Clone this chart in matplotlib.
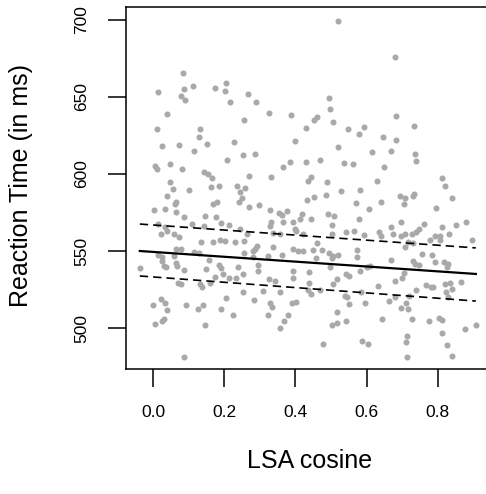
import matplotlib
matplotlib.use("Agg")
import matplotlib.pyplot as plt

# LSA cosine vs reaction time
lsa_cosine = [
    0.085, 0.013, 0.088, 0.113, 0.079, 0.090, 0.175, 0.205, 0.201, 0.215, 0.039, 0.010, 0.132, 0.256,
    0.519, 0.268, 0.288, 0.326, 0.387, 0.495, 0.496, 0.462, 0.451, 0.506, 0.430, 0.548,
    0.680, 0.683, 0.593, 0.732,
    0.026, 0.073, 0.129, 0.152, 0.115, 0.228, 0.253, 0.208, 0.006, 0.012, 0.047, 0.081, 0.144, 0.155,
    0.165, 0.049, 0.056, 0.101, 0.162, 0.186, 0.237, 0.258, 0.244, 0.039, 0.065, 0.062, 0.003, 0.033,
    0.065, 0.088, 0.168, 0.181, 0.145, 0.177, 0.251, 0.241, 0.014, 0.034, 0.109, 0.142, 0.192, 0.214,
    0.022, 0.039, 0.058, 0.073, 0.244, 0.169, 0.189, 0.202, 0.230, 0.256, 0.136,
    0.578, 0.398, 0.520, 0.287, 0.366, 0.386, 0.430, 0.470, 0.537, 0.561, 0.269, 0.331, 0.435, 0.443,
    0.489, 0.527, 0.486, 0.452, 0.432, 0.571, 0.297, 0.270, 0.329, 0.353, 0.363, 0.377, 0.420, 0.492,
    0.509, 0.444, 0.364, 0.393, 0.412, 0.331, 0.328, 0.502, 0.541, 0.565, 0.398, 0.402, 0.263, 0.337,
    0.357, 0.503, 0.422, 0.460,
    0.647, 0.684, 0.616, 0.669, 0.737, 0.738, 0.649, 0.812, 0.819, 0.630, 0.581, 0.694, 0.707, 0.732,
    0.731, 0.704, 0.640, 0.839, 0.794, 0.608, 0.579, 0.697, 0.760, 0.811, 0.850, 0.879, 0.669, 0.635,
    0.641, 0.673, 0.697, 0.708, 0.728, 0.740, 0.746, 0.594, 0.792, 0.807, 0.831, 0.779, 0.806, 0.895,
    0.066, 0.079, 0.015, 0.024, 0.059, 0.024, 0.116, 0.129, 0.256, -0.037, 0.032, 0.037, 0.065, 0.068,
    0.088, 0.148, 0.157, 0.186, 0.190, 0.238, 0.254, 0.197, 0.174, 0.214, 0.232, 0.071, 0.080, 0.133,
    0.138, 0.161, 0.254, 0.022, 0.000, 0.033, 0.039, 0.093, 0.126, 0.140, 0.191, 0.206, 0.226, 0.030,
    0.024, 0.006, 0.146, 0.088,
    0.336, 0.293, 0.280, 0.286, 0.282, 0.324, 0.363, 0.392, 0.408, 0.422, 0.449, 0.475, 0.495, 0.505,
    0.519, 0.502, 0.458, 0.574, 0.574, 0.296, 0.296, 0.326, 0.343, 0.394, 0.394, 0.439, 0.439, 0.497,
    0.516, 0.551, 0.542, 0.310, 0.357, 0.436, 0.444, 0.469, 0.505, 0.540, 0.546, 0.550, 0.284, 0.329,
    0.333, 0.390, 0.402, 0.324, 0.378, 0.368, 0.357, 0.518, 0.502, 0.516, 0.542, 0.477,
    0.581, 0.600, 0.610, 0.669, 0.708, 0.717, 0.731, 0.757, 0.785, 0.792, 0.731, 0.736, 0.747, 0.818,
    0.828, 0.825, 0.706, 0.699, 0.680, 0.766, 0.781, 0.787, 0.820, 0.834, 0.865, 0.841, 0.822, 0.830,
    0.633, 0.583, 0.596, 0.663, 0.680, 0.720, 0.711, 0.696, 0.717, 0.739, 0.728, 0.642, 0.775, 0.803,
    0.813, 0.876, 0.907, 0.811, 0.586, 0.603, 0.714, 0.710, 0.827, 0.839, 0.715,
]
reaction_time = [
    665.8, 653.2, 655.4, 657.0, 650.6, 648.1, 655.6, 659.1, 653.7, 646.8, 639.2, 629.0, 629.0, 635.1,
    699.4, 652.0, 646.8, 639.8, 638.5, 649.2, 642.2, 636.8, 635.1, 633.8, 630.1, 629.4,
    675.8, 637.9, 630.3, 631.4,
    618.0, 618.8, 624.0, 619.3, 614.7, 620.8, 612.5, 608.9, 605.4, 603.4, 606.3, 603.4, 601.3, 599.8,
    597.4, 594.6, 590.1, 589.4, 591.4, 592.0, 592.4, 591.1, 588.1, 585.5, 582.0, 580.3, 576.6, 577.3,
    575.1, 571.9, 580.7, 581.8, 572.9, 572.1, 584.6, 581.6, 567.7, 565.4, 567.3, 566.0, 568.4, 566.9,
    561.2, 563.2, 561.0, 559.1, 564.1, 555.8, 556.9, 556.3, 556.0, 556.5, 556.0,
    626.0, 621.2, 617.3, 613.0, 604.8, 607.6, 607.6, 609.3, 607.3, 606.7, 598.9, 597.9, 595.5, 597.9,
    594.6, 589.0, 586.4, 584.9, 582.9, 581.4, 580.1, 578.4, 576.8, 574.5, 573.4, 575.8, 574.2, 574.0,
    572.7, 570.6, 569.0, 569.0, 570.6, 568.6, 566.2, 567.1, 562.5, 563.2, 564.1, 563.0, 561.2, 561.9,
    561.0, 561.2, 561.2, 555.2,
    624.0, 622.1, 614.5, 615.1, 612.8, 608.4, 604.5, 597.6, 592.4, 595.5, 589.4, 585.9, 584.6, 586.8,
    585.5, 580.5, 581.8, 584.2, 577.7, 577.3, 570.6, 569.0, 567.3, 565.8, 566.9, 568.6, 565.8, 562.5,
    560.0, 561.2, 559.7, 560.8, 560.8, 562.1, 564.1, 560.4, 559.5, 559.9, 561.2, 556.9, 556.9, 557.1,
    551.1, 551.1, 547.4, 546.3, 547.0, 543.7, 549.2, 548.9, 548.5, 539.0, 540.3, 539.4, 542.4, 540.3,
    537.7, 538.1, 544.2, 540.7, 539.0, 539.8, 534.9, 534.9, 533.3, 532.3, 532.7, 529.4, 528.4, 528.4,
    526.8, 529.4, 523.6, 519.0, 515.1, 516.0, 511.7, 514.7, 512.1, 514.7, 512.1, 519.3, 508.4, 505.8,
    504.5, 502.8, 502.1, 481.2,
    552.8, 553.2, 550.0, 551.1, 546.1, 546.8, 547.4, 551.1, 550.2, 550.2, 550.6, 550.6, 548.9, 546.8,
    547.4, 545.2, 545.2, 550.6, 546.3, 540.9, 537.2, 531.6, 530.5, 537.0, 532.7, 536.2, 529.4, 539.8,
    531.6, 533.8, 534.9, 524.0, 523.2, 524.7, 522.1, 524.7, 528.6, 520.8, 519.9, 515.6, 518.2, 516.4,
    513.8, 516.0, 517.1, 508.2, 508.6, 504.7, 500.2, 510.4, 502.1, 503.2, 504.3, 489.6,
    537.2, 539.4, 540.3, 544.2, 552.8, 556.0, 555.4, 548.1, 547.4, 543.1, 543.7, 541.6, 540.9, 543.1,
    541.6, 539.4, 535.5, 532.3, 530.5, 527.9, 526.4, 526.4, 528.6, 529.4, 530.1, 525.1, 523.2, 520.3,
    527.3, 523.2, 516.0, 517.7, 519.9, 520.8, 516.0, 512.8, 512.1, 524.7, 505.6, 505.6, 504.5, 506.3,
    505.2, 499.4, 501.9, 496.6, 491.7, 489.4, 495.0, 490.7, 488.9, 482.0, 481.0,
]

# regression line and its band, drawn between the end points of the x range
fit_x = [-0.037, 0.907]
fit_y = [550.0, 535.1]
upper_y = [567.5, 552.0]
lower_y = [533.8, 517.5]

x_ticks = [0.0, 0.2, 0.4, 0.6, 0.8]
y_ticks = [500, 550, 600, 650, 700]

plt.rcParams['font.family'] = ['Liberation Sans', 'DejaVu Sans']

W, H = 486, 494
fig = plt.figure(figsize=(W / 100, H / 100), dpi=100)
ax = fig.add_axes([126 / W, 1 - 369 / H, 368 / W, 362 / H])

ax.scatter(lsa_cosine, reaction_time, s=19, color='#a9a9a9', linewidths=0, zorder=2)
ax.plot(fit_x, fit_y, color='black', lw=1.6, zorder=3)
ax.plot(fit_x, upper_y, color='black', lw=1.2, dashes=(5, 3), zorder=3)
ax.plot(fit_x, lower_y, color='black', lw=1.2, dashes=(5, 3), zorder=3)

ax.set_xlim(-0.0758, 0.958)
ax.set_ylim(473.4, 708.4)
ax.set_xticks(x_ticks)
ax.set_xticklabels(['{:.1f}'.format(v) for v in x_ticks], fontsize=12.5)
ax.set_yticks(y_ticks)
ax.set_yticklabels([str(v) for v in y_ticks], fontsize=12.5, rotation=90, va='center')
ax.tick_params(direction='out', length=13, width=1.1, color='black')
ax.tick_params(axis='x', pad=13)
ax.tick_params(axis='y', pad=13.5)
for sp in ax.spines.values():
    sp.set_linewidth(1.1)

fig.text(310 / W, 1 - 461 / H, 'LSA cosine', fontsize=18, ha='center', va='center')
fig.text(21 / W, 1 - 185 / H, 'Reaction Time (in ms)', fontsize=18, ha='center', va='center', rotation=90)

fig.savefig('out.png', dpi=100)
